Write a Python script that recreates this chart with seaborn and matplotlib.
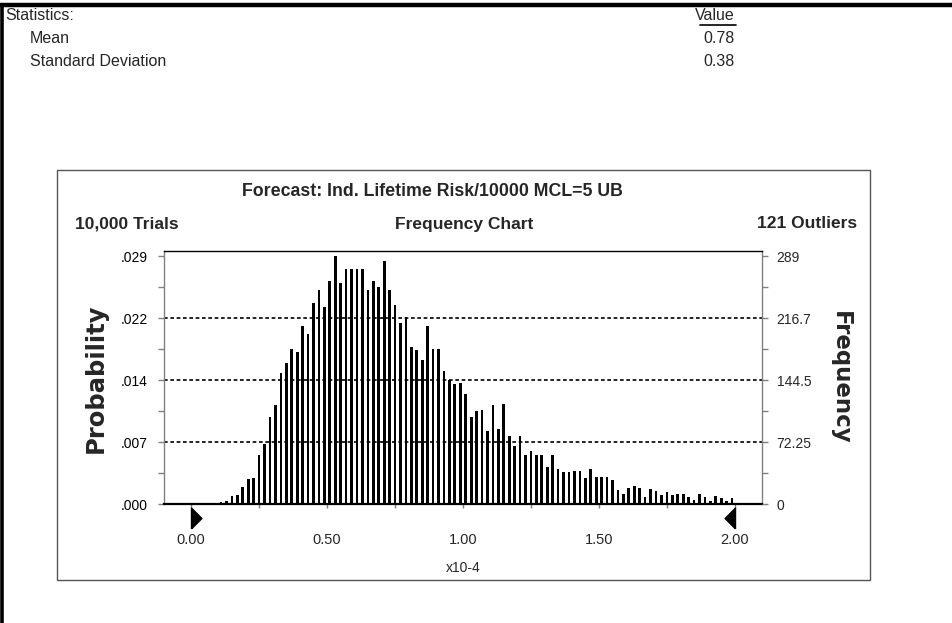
import matplotlib
matplotlib.use("Agg")
import numpy as np
import pandas as pd
import seaborn as sns
import matplotlib.pyplot as plt
from matplotlib.path import Path
from matplotlib.patches import Rectangle
from matplotlib.lines import Line2D
from matplotlib.transforms import ScaledTranslation

# frequency counts, one per 0.02-wide bin from 0.00 to 2.00 (x10-4)
bin_start = 0.0
bin_width = 0.02
counts = [0, 0, 0, 0, 0,
          2, 3, 9, 11, 20, 29, 30, 57, 70, 102,
          115, 153, 164, 181, 177, 208, 198, 234, 249, 230,
          260, 289, 258, 274, 274, 274, 274, 249, 260, 253,
          283, 249, 232, 211, 218, 183, 179, 168, 208, 181,
          181, 155, 145, 140, 141, 128, 102, 109, 110, 85,
          115, 87, 117, 79, 68, 79, 57, 62, 57, 57,
          43, 57, 41, 37, 37, 39, 39, 30, 41, 32,
          32, 32, 28, 16, 12, 19, 21, 19, 8, 17,
          15, 10, 14, 10, 12, 12, 8, 5, 12, 8,
          4, 9, 7, 3, 7]

freq_ticks = [0, 72.25, 144.5, 216.75, 289]
freq_labels = ["0", "72.25", "144.5", "216.7", "289"]
prob_labels = [".000", ".007", ".014", ".022", ".029"]
x_labels = ["0.00", "0.50", "1.00", "1.50", "2.00"]
x_ticks = [0.0, 0.5, 1.0, 1.5, 2.0]

stat_names = ["Mean", "Standard Deviation"]
stat_values = ["0.78", "0.38"]

n_bins = len(counts)
centers = bin_start + bin_width * (np.arange(n_bins) + 0.5)
df = pd.DataFrame({"risk": centers, "count": counts})

sns.set_theme(style="white")
plt.rcParams["font.family"] = ["Liberation Sans", "DejaVu Sans"]

W, H = 952, 623
fig = plt.figure(figsize=(W / 100, H / 100), dpi=100)

def fx(px):
    return px / W

def fy(py):
    return 1 - py / H

# page border lines
fig.add_artist(Line2D([0, 1], [fy(4.5), fy(4.5)], color="black", lw=3.2, transform=fig.transFigure))
fig.add_artist(Line2D([fx(1.5), fx(1.5)], [fy(4.5), 0], color="black", lw=2.6, transform=fig.transFigure))

# statistics header
fig.text(fx(5), fy(15), "Statistics:", fontsize=11.5, va="center", ha="left")
fig.text(fx(735), fy(15), "Value", fontsize=11.5, va="center", ha="right")
fig.add_artist(Line2D([fx(700), fx(736)], [fy(25), fy(25)], color="black", lw=1.2, transform=fig.transFigure))
for i, (name, val) in enumerate(zip(stat_names, stat_values)):
    y = fy(38.5 + 23.5 * i)
    fig.text(fx(30), y, name, fontsize=11.5, va="center", ha="left")
    fig.text(fx(735), y, val, fontsize=11.5, va="center", ha="right")

# chart frame
fig.add_artist(Rectangle((fx(57), fy(580)), fx(870) - fx(57), fy(170) - fy(580),
                         transform=fig.transFigure, fill=False, edgecolor="#555555", lw=1))

fig.text(fx(432), fy(191), "Forecast: Ind. Lifetime Risk/10000 MCL=5 UB",
         fontsize=12.8, fontweight="bold", ha="center", va="center")
fig.text(fx(75), fy(224), "10,000 Trials", fontsize=12.5, fontweight="bold", ha="left", va="center")
fig.text(fx(464), fy(224), "Frequency Chart", fontsize=12.5, fontweight="bold", ha="center", va="center")
fig.text(fx(857), fy(224), "121 Outliers", fontsize=12.5, fontweight="bold", ha="right", va="center")

ax = fig.add_axes([fx(164), fy(504), fx(762) - fx(164), fy(251) - fy(504)])
sns.histplot(data=df, x="risk", weights="count", binwidth=bin_width,
             binrange=(bin_start, bin_start + bin_width * n_bins), shrink=0.5,
             color="black", edgecolor=None, linewidth=0, alpha=1, ax=ax)
ax.set_xlim(-0.1, 2.1)
ax.set_ylim(0, 295)
ax.set_xlabel("")
ax.set_ylabel("")

for g in freq_ticks[1:-1]:
    ax.axhline(g, color="black", lw=1.2, ls=(0, (2.2, 1.6)), zorder=0)

for side in ["left", "right"]:
    ax.spines[side].set_color("#808080")
    ax.spines[side].set_linewidth(1)
ax.spines["top"].set_color("black")
ax.spines["top"].set_linewidth(1)
ax.spines["bottom"].set_color("black")
ax.spines["bottom"].set_linewidth(1.6)

ax.set_yticks(freq_ticks)
ax.set_yticklabels(prob_labels)
ax.set_yticks([36.125 * k for k in range(1, 8, 2)], minor=True)
ax.tick_params(axis="y", which="both", left=True, length=4, width=1, color="#808080",
               pad=7.5, labelsize=10, labelcolor="black")

ax.set_xticks(x_ticks)
ax.set_xticklabels(x_labels)
ax.set_xticks([0.25, 0.75, 1.25, 1.75], minor=True)
ax.tick_params(axis="x", which="both", bottom=True, length=3, width=1, color="#808080",
               pad=18, labelsize=10.5)

ax2 = ax.twinx()
ax2.set_ylim(ax.get_ylim())
ax2.set_yticks(freq_ticks)
ax2.set_yticklabels(freq_labels)
ax2.set_yticks([36.125 * k for k in range(1, 8, 2)], minor=True)
ax2.tick_params(axis="y", which="both", right=True, length=4, width=1, color="#808080",
                pad=6.5, labelsize=10)
for s in ax2.spines.values():
    s.set_visible(False)

# range markers at 0.00 and 2.00
right_tri = Path([(0, -1), (0, 1), (1, 0), (0, -1)])
left_tri = Path([(0, -1), (0, 1), (-1, 0), (0, -1)])
shift = ax.get_xaxis_transform() + ScaledTranslation(0, -0.14, fig.dpi_scale_trans)
ax.plot([x_ticks[0]], [0], marker=right_tri, markersize=15, color="black", clip_on=False,
        transform=shift)
ax.plot([x_ticks[-1]], [0], marker=left_tri, markersize=15, color="black", clip_on=False,
        transform=shift)

fig.text(fx(463), fy(568), "x10-4", fontsize=10, ha="center", va="center")
fig.text(fx(96), fy(378), "Probability", fontsize=17.5, fontweight="bold", rotation=90,
         family=["DejaVu Sans"], ha="center", va="center")
fig.text(fx(840), fy(378), "Frequency", fontsize=16.5, fontweight="bold", rotation=270,
         family=["DejaVu Sans"], ha="center", va="center")

fig.savefig("out.png", dpi=100)
